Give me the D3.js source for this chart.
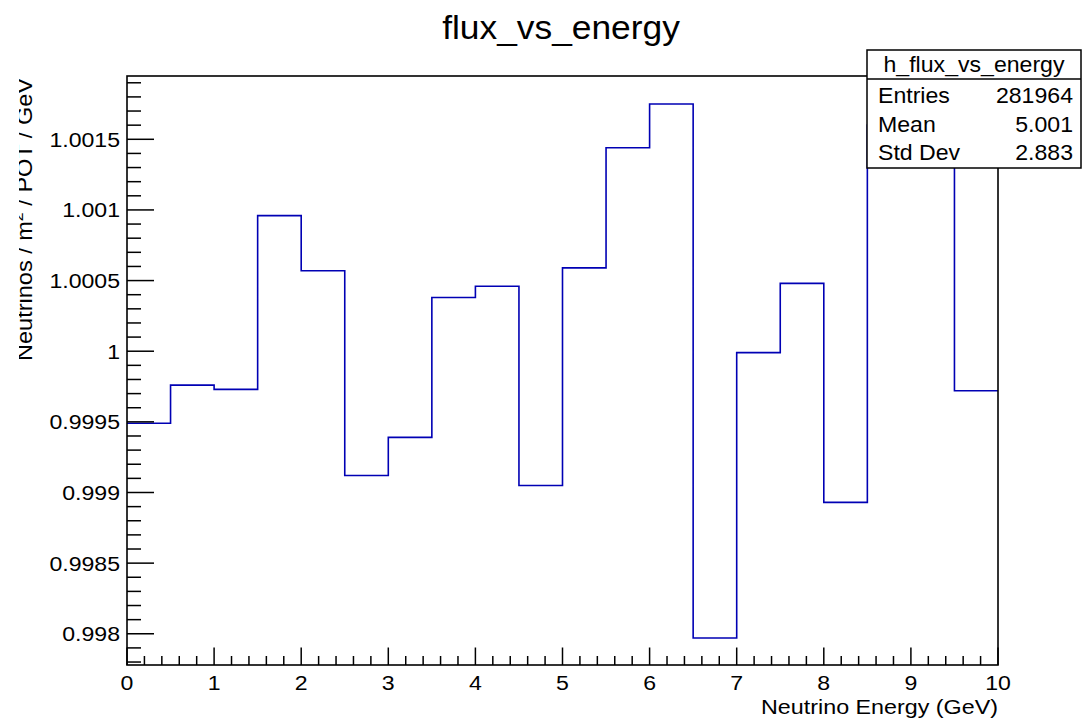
<!DOCTYPE html>
<html>
<head>
<meta charset="utf-8">
<script src="https://cdn.jsdelivr.net/npm/d3@7"></script>
<style>
  html, body { margin: 0; padding: 0; background: #fff; }
  text { font-family: "Liberation Sans", Arial, Helvetica, sans-serif; fill: #000; }
</style>
</head>
<body>
<svg id="chart" width="1082" height="721"></svg>
<script>
// ---- data ----
const binLow  = [0, 0.5, 1, 1.5, 2, 2.5, 3, 3.5, 4, 4.5, 5, 5.5, 6, 6.5, 7, 7.5, 8, 8.5, 9, 9.5];
const binHigh = [0.5, 1, 1.5, 2, 2.5, 3, 3.5, 4, 4.5, 5, 5.5, 6, 6.5, 7, 7.5, 8, 8.5, 9, 9.5, 10];
const flux = [0.99949, 0.99976, 0.99973, 1.00096, 1.00057, 0.99912, 0.99939, 1.00038, 1.00046, 0.99905,
              1.00059, 1.00144, 1.00175, 0.99797, 0.99999, 1.00048, 0.99893, 1.0016, 1.0015, 0.99972];
const xDomain = [0, 10];
const yDomain = [0.997779, 1.001948];
const xTickValues = [0, 1, 2, 3, 4, 5, 6, 7, 8, 9, 10];
const xTickLabels = ["0", "1", "2", "3", "4", "5", "6", "7", "8", "9", "10"];
const yTickValues = [0.998, 0.9985, 0.999, 0.9995, 1, 1.0005, 1.001, 1.0015];
const yTickLabels = ["0.998", "0.9985", "0.999", "0.9995", "1", "1.0005", "1.001", "1.0015"];
const xMinorStep = 0.2;
const yMinorStep = 0.0001;
const titleText = "flux_vs_energy";
const xTitle = "Neutrino Energy (GeV)";
const statName = "h_flux_vs_energy";
const statLabels = ["Entries", "Mean", "Std Dev"];
const statValues = ["281964", "5.001", "2.883"];

// ---- layout ----
const L = 127, R = 998, T = 76, B = 665;
const svg = d3.select("#chart");
const x = d3.scaleLinear().domain(xDomain).range([L, R]);
const y = d3.scaleLinear().domain(yDomain).range([B, T]);

// text helper: places text at (px,py) with horizontal stretch sx
function label(parent, px, py, str, size, anchor, sx) {
  return parent.append("text")
    .attr("transform", `translate(${px},${py}) scale(${sx},1)`)
    .attr("text-anchor", anchor).attr("font-size", size).text(str);
}

// minor tick value lists
const xMinor = d3.range(Math.round((xDomain[1]-xDomain[0])/xMinorStep)+1).map(i => +(xDomain[0] + i*xMinorStep).toFixed(6));
const yStart = Math.ceil(yDomain[0]/yMinorStep - 1e-6);
const yEnd = Math.floor(yDomain[1]/yMinorStep + 1e-6);
const yMinor = d3.range(yStart, yEnd+1).map(k => +(k*yMinorStep).toFixed(6));

// histogram step path
let pts = [];
flux.forEach((v, i) => { pts.push([x(binLow[i]), y(v)]); pts.push([x(binHigh[i]), y(v)]); });
svg.append("path")
  .attr("d", d3.line()(pts))
  .attr("fill", "none")
  .attr("stroke", "#0000b4")
  .attr("stroke-width", 1.6);

// frame
svg.append("rect").attr("x", L).attr("y", T).attr("width", R-L).attr("height", B-T)
  .attr("fill", "none").attr("stroke", "#000").attr("stroke-width", 1.6);

// x axis ticks (inward)
const gx = svg.append("g");
gx.selectAll("line").data(xMinor).join("line")
  .attr("x1", d => x(d)).attr("x2", d => x(d))
  .attr("y1", B).attr("y2", d => xTickValues.includes(d) ? B-17.5 : B-9)
  .attr("stroke", "#000").attr("stroke-width", 1.5);
xTickValues.forEach((d, i) => label(gx, x(d), 690, xTickLabels[i], 21, "middle", 1.1));

// y axis ticks (inward)
const gy = svg.append("g");
gy.selectAll("line").data(yMinor).join("line")
  .attr("y1", d => y(d)).attr("y2", d => y(d))
  .attr("x1", L).attr("x2", d => yTickValues.some(t => Math.abs(t-d) < 1e-7) ? L+27 : L+14)
  .attr("stroke", "#000").attr("stroke-width", 1.5);
yTickValues.forEach((d, i) => label(gy, 120, y(d) + 7.5, yTickLabels[i], 21, "end", 1.1));

// title
label(svg, 561, 39, titleText, 34, "middle", 1.04);

// x axis title
label(svg, R, 714, xTitle, 21, "end", 1.11);

// y axis title (clipped at left, as in the reference)
svg.append("clipPath").attr("id", "ytclip").append("rect")
  .attr("x", 19).attr("y", 0).attr("width", 100).attr("height", 721);
const ytg = svg.append("g").attr("clip-path", "url(#ytclip)");
const yt = ytg.append("text")
  .attr("transform", "translate(32,78) rotate(-90) scale(1.07,1)")
  .attr("text-anchor", "end").attr("font-size", 22);
yt.append("tspan").text("Neutrinos / m");
yt.append("tspan").attr("font-size", 15).attr("dy", -9).text("2");
yt.append("tspan").attr("dy", 9).text(" / POT / GeV");

// stats box
const sx0 = 867, sx1 = 1081, sy0 = 50, sy1 = 168, sySep = 79;
svg.append("rect").attr("x", sx0).attr("y", sy0).attr("width", sx1-sx0).attr("height", sy1-sy0)
  .attr("fill", "#fff").attr("stroke", "#000").attr("stroke-width", 1.5);
svg.append("line").attr("x1", sx0).attr("x2", sx1).attr("y1", sySep).attr("y2", sySep)
  .attr("stroke", "#000").attr("stroke-width", 1.5);
label(svg, (sx0+sx1)/2, 72, statName, 22, "middle", 1.05);
const rowY = [103, 131.5, 160];
statLabels.forEach((lab, i) => {
  label(svg, 878, rowY[i], lab, 22, "start", 1.05);
  label(svg, 1073, rowY[i], statValues[i], 22, "end", 1.05);
});
</script>
</body>
</html>
